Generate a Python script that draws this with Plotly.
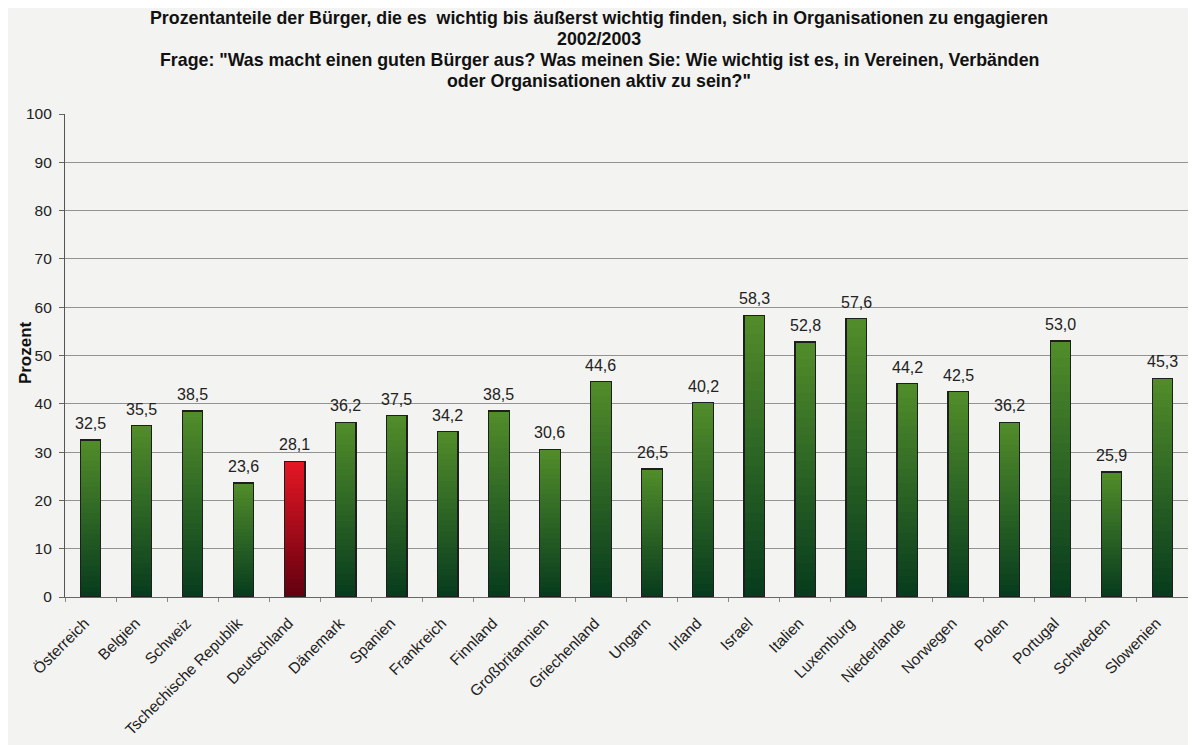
import plotly.graph_objects as go

countries = ["Österreich", "Belgien", "Schweiz", "Tschechische Republik", "Deutschland",
             "Dänemark", "Spanien", "Frankreich", "Finnland", "Großbritannien",
             "Griechenland", "Ungarn", "Irland", "Israel", "Italien", "Luxemburg",
             "Niederlande", "Norwegen", "Polen", "Portugal", "Schweden", "Slowenien"]
values = [32.5, 35.5, 38.5, 23.6, 28.1, 36.2, 37.5, 34.2, 38.5, 30.6,
          44.6, 26.5, 40.2, 58.3, 52.8, 57.6, 44.2, 42.5, 36.2, 53.0, 25.9, 45.3]
highlight = "Deutschland"
y_ticks = [0, 10, 20, 30, 40, 50, 60, 70, 80, 90, 100]
y_title = "Prozent"

title_lines = [
    "Prozentanteile der Bürger, die es  wichtig bis äußerst wichtig finden, sich in Organisationen zu engagieren",
    "2002/2003",
    "Frage: \"Was macht einen guten Bürger aus? Was meinen Sie: Wie wichtig ist es, in Vereinen, Verbänden",
    "oder Organisationen aktiv zu sein?\"",
]

GREEN_BOTTOM = (8, 60, 30)
GREEN_TOP = (80, 140, 42)
RED_BOTTOM = (100, 0, 15)
RED_TOP = (228, 22, 36)


def mix(a, b, t):
    return "rgb({},{},{})".format(*[round(a[k] + (b[k] - a[k]) * t) for k in range(3)])


fig = go.Figure()
N = 30
for i in range(N):
    t = i / (N - 1)
    colors = [mix(RED_BOTTOM, RED_TOP, t) if c == highlight else mix(GREEN_BOTTOM, GREEN_TOP, t)
              for c in countries]
    fig.add_trace(go.Bar(
        x=countries, y=[v / N for v in values],
        marker=dict(color=colors, line=dict(width=0)),
        showlegend=False, hoverinfo="skip",
    ))

fig.add_trace(go.Bar(
    x=countries, y=values, xaxis="x2",
    marker=dict(color="rgba(0,0,0,0)", line=dict(color="#1e1e1e", width=1.2)),
    showlegend=False, hoverinfo="skip",
))

labels = [f"{v:.1f}".replace(".", ",") for v in values]
for c, v, lab in zip(countries, values, labels):
    fig.add_annotation(
        x=c, y=v, text=lab, showarrow=False, yanchor="bottom", yshift=6,
        font=dict(family="Liberation Sans, Arial", size=16, color="#222"),
    )

# layout geometry (figure pixels)
PLOT_LEFT, PLOT_W = 57, 1123
PLOT_TOP, PLOT_H = 106, 483

# title block: four centred bold lines
line_px = [10, 31, 52, 73]
for s, py in zip(title_lines, line_px):
    fig.add_annotation(
        xref="paper", yref="paper", x=(591 - PLOT_LEFT) / PLOT_W, xanchor="center",
        y=(PLOT_TOP + PLOT_H - py) / PLOT_H, yanchor="middle",
        text=f"<b>{s}</b>", showarrow=False,
        font=dict(family="Liberation Sans, Arial", size=17.8, color="#111"),
    )

# y axis title
fig.add_annotation(
    xref="paper", yref="paper", x=(17 - PLOT_LEFT) / PLOT_W, y=0.505,
    xanchor="center", yanchor="middle", textangle=-90, showarrow=False,
    text=f"<b>{y_title}</b>",
    font=dict(family="Liberation Sans, Arial", size=17, color="#111"),
)

fig.update_layout(
    width=1196, height=745,
    barmode="stack", bargap=0.6,
    paper_bgcolor="#f3f3f1", plot_bgcolor="#f3f3f1",
    margin=dict(l=PLOT_LEFT, r=1196 - PLOT_LEFT - PLOT_W, t=PLOT_TOP,
                b=745 - PLOT_TOP - PLOT_H, autoexpand=False),
    font=dict(family="Liberation Sans, Arial", color="#222"),
    xaxis=dict(
        type="category", range=[-0.5, len(countries) - 0.5],
        tickangle=-45, tickson="boundaries", ticks="outside", ticklen=4,
        tickcolor="#888", tickfont=dict(size=15.5, color="#222"),
        ticklabelstandoff=10, ticklabelshift=-6, automargin=False,
        showline=True, linecolor="#666", linewidth=1.2, showgrid=False,
    ),
    xaxis2=dict(
        type="category", overlaying="x", range=[-0.5, len(countries) - 0.5],
        visible=False,
    ),
    yaxis=dict(
        range=[0, 100], tickvals=y_ticks, ticks="outside", ticklen=5, tickcolor="#666",
        showgrid=True, gridcolor="#929292", gridwidth=1,
        showline=True, linecolor="#555", linewidth=1.2,
        tickfont=dict(size=15.5, color="#222"), ticklabelstandoff=4,
        zeroline=False, automargin=False,
    ),
)

fig.write_html("out.html")
